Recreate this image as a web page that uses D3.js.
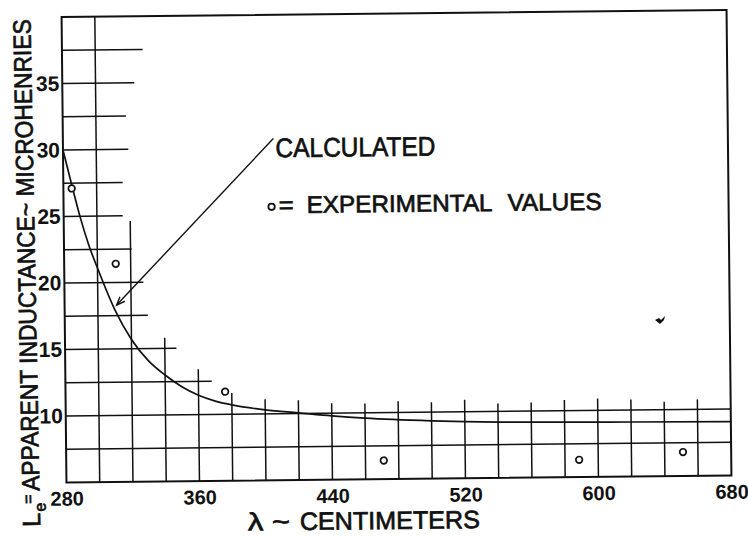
<!DOCTYPE html>
<html>
<head>
<meta charset="utf-8">
<script src="https://cdn.jsdelivr.net/npm/d3@7"></script>
<style>
  html, body { margin: 0; padding: 0; background: #fff; }
  svg { display: block; }
  text { font-family: "Liberation Sans", Arial, sans-serif; fill: #111; }
  .lettering { stroke: #111; stroke-width: 0.7px; }
</style>
</head>
<body>
<svg id="chart" width="748" height="536"></svg>
<script>
// Calculated apparent inductance (microhenries) against wavelength (cm)
const calcWavelength = [280, 285, 290, 295, 300, 310, 320, 330, 340, 350, 360, 370, 380, 400, 420, 440, 460, 500, 540, 580, 620, 680];
const calcInductance = [30.0, 27.4, 24.9, 22.8, 21.1, 18.0, 15.7, 14.1, 13.0, 12.1, 11.45, 11.0, 10.7, 10.3, 10.05, 9.8, 9.6, 9.35, 9.2, 9.15, 9.1, 9.05];

// Measured values
const expWavelength = [285, 311, 376, 471, 588.5, 651];
const expInductance = [27.1, 21.4, 11.7, 6.4, 6.3, 6.8];

// Tick labels
const xTicks = [280, 360, 440, 520, 600, 680];
const yTicks = [10, 15, 20, 25, 30, 35];

// Ruled horizontal lines (every 2.5 µH) and the wavelength each is ruled out to
const hLineLevels = [7.5, 10, 12.5, 15, 17.5, 20, 22.5, 25, 27.5, 30, 32.5, 35, 37.5];
const hLineEnds   = [680, 680, 368, 347, 330, 327.5, 320.7, 315.5, 315.7, 319.3, 318.1, 323.3, 328.5];

// Ruled vertical lines (every 20 cm) and the inductance each is ruled up to
const vLinePositions = [300, 320, 340, 360, 380, 400, 420, 440, 460, 480, 500, 520, 540, 560, 580, 600, 620, 640, 660];
const vLineTops      = [40, 24.6, 15.8, 13.4, 11.6, 11.1, 11.0, 10.75, 10.7, 10.85, 10.75, 10.9, 10.6, 10.65, 10.8, 10.9, 10.8, 10.6, 10.75];

const ink = "#111";
const svg = d3.select("#chart");

const x = d3.scaleLinear().domain([280, 680]).range([64, 729]);
const y = d3.scaleLinear().domain([5, 40]).range([479, 13.5]);

// the sheet sits very slightly askew
const g = svg.append("g").attr("transform", "rotate(-0.6, 396.5, 246)");

// ruled grid
g.append("g").selectAll("line").data(hLineLevels).join("line")
  .attr("x1", x(280)).attr("x2", (d, i) => x(hLineEnds[i]))
  .attr("y1", d => y(d)).attr("y2", d => y(d))
  .attr("stroke", ink).attr("stroke-width", 1.5);

g.append("g").selectAll("line").data(vLinePositions).join("line")
  .attr("x1", d => x(d)).attr("x2", d => x(d))
  .attr("y1", y(5)).attr("y2", (d, i) => y(vLineTops[i]))
  .attr("stroke", ink).attr("stroke-width", 1.5);

// frame
g.append("rect")
  .attr("x", x(280)).attr("y", y(40))
  .attr("width", x(680) - x(280)).attr("height", y(5) - y(40))
  .attr("fill", "none").attr("stroke", ink).attr("stroke-width", 2);

// axis labels
const xAxis = g.append("g").attr("transform", `translate(0,${y(5)})`)
  .call(d3.axisBottom(x).tickValues(xTicks).tickSize(0).tickPadding(9).tickFormat(d3.format("d")));
xAxis.select(".domain").remove();
xAxis.selectAll("text")
  .attr("font-family", "'Liberation Sans', Arial, sans-serif")
  .attr("font-size", 20).attr("font-weight", "bold").attr("fill", ink);

const yAxis = g.append("g").attr("transform", `translate(${x(280)},0)`)
  .call(d3.axisLeft(y).tickValues(yTicks).tickSize(0).tickPadding(3).tickFormat(d3.format("d")));
yAxis.select(".domain").remove();
yAxis.selectAll("text")
  .attr("font-family", "'Liberation Sans', Arial, sans-serif")
  .attr("font-size", 21).attr("font-weight", "bold").attr("fill", ink);

// calculated curve
const calcPoints = calcWavelength.map((w, i) => [w, calcInductance[i]]);
const line = d3.line().x(d => x(d[0])).y(d => y(d[1])).curve(d3.curveMonotoneX);
g.append("path").datum(calcPoints)
  .attr("d", line).attr("fill", "none")
  .attr("stroke", ink).attr("stroke-width", 1.7);

// experimental points
g.append("g").selectAll("circle").data(expWavelength).join("circle")
  .attr("cx", d => x(d)).attr("cy", (d, i) => y(expInductance[i]))
  .attr("r", 3.3).attr("fill", "#fff")
  .attr("stroke", ink).attr("stroke-width", 1.7);

// "CALCULATED" label with leader to the curve
const leadFrom = [406.6, 30.7], leadTo = [311.3, 18.3];
const lx1 = x(leadFrom[0]), ly1 = y(leadFrom[1]);
const lx2 = x(leadTo[0]), ly2 = y(leadTo[1]);
g.append("line").attr("x1", lx1).attr("y1", ly1).attr("x2", lx2).attr("y2", ly2)
  .attr("stroke", ink).attr("stroke-width", 1.4);
const ang = Math.atan2(ly1 - ly2, lx1 - lx2);
const head = 9, spread = 0.38;
g.append("path")
  .attr("d", `M${lx2 + head * Math.cos(ang + spread)},${ly2 + head * Math.sin(ang + spread)}L${lx2},${ly2}L${lx2 + head * Math.cos(ang - spread)},${ly2 + head * Math.sin(ang - spread)}`)
  .attr("fill", "none").attr("stroke", ink).attr("stroke-width", 1.4);

g.append("text").attr("class", "lettering").attr("x", lx1 + 2).attr("y", 156)
  .attr("font-size", 27).attr("textLength", 160).attr("lengthAdjust", "spacingAndGlyphs")
  .text("CALCULATED");

// legend for the measured points
g.append("circle").attr("cx", 272).attr("cy", 205.5).attr("r", 3.2)
  .attr("fill", "#fff").attr("stroke", ink).attr("stroke-width", 1.8);
g.append("text").attr("class", "lettering").attr("x", 279).attr("y", 212)
  .attr("font-size", 24).attr("textLength", 15).attr("lengthAdjust", "spacingAndGlyphs")
  .text("=");
g.append("text").attr("class", "lettering").attr("x", 307).attr("y", 212)
  .attr("font-size", 24).attr("textLength", 186).attr("lengthAdjust", "spacingAndGlyphs")
  .text("EXPERIMENTAL");
g.append("text").attr("class", "lettering").attr("x", 508).attr("y", 212)
  .attr("font-size", 24).attr("textLength", 94).attr("lengthAdjust", "spacingAndGlyphs")
  .text("VALUES");

// axis titles
g.append("text").attr("class", "lettering").attr("x", 245).attr("y", 529)
  .attr("font-size", 25).attr("textLength", 42).attr("lengthAdjust", "spacingAndGlyphs")
  .text("λ ~");
g.append("text").attr("class", "lettering").attr("x", 297).attr("y", 529)
  .attr("font-size", 25).attr("textLength", 180).attr("lengthAdjust", "spacingAndGlyphs")
  .text("CENTIMETERS");

const yTitle = g.append("g").attr("transform", "rotate(-0.5, 26, 268)");
yTitle.append("text").attr("class", "lettering").attr("transform", "translate(35,523) rotate(-90)")
  .attr("font-size", 25).text("L");
yTitle.append("text").attr("class", "lettering").attr("transform", "translate(41,508) rotate(-90)")
  .attr("font-size", 16).text("e");
yTitle.append("text").attr("class", "lettering").attr("transform", "translate(29,500) rotate(-90)")
  .attr("font-size", 16).text("=");
// main title run, squeezed along its own direction to span 472 px
const titleRun = yTitle.append("text").attr("class", "lettering")
  .attr("font-size", 25).text("APPARENT INDUCTANCE~ MICROHENRIES");
const runLen = titleRun.node().getComputedTextLength();
titleRun.attr("transform", `translate(35,487) rotate(-90) scale(${472 / runLen},1)`);

// small ink speck on the sheet
svg.append("path")
  .attr("d", "M655,320 L659,318 L661,320 L665,316 L664,320 L660,324 Z")
  .attr("fill", ink);
</script>
</body>
</html>
